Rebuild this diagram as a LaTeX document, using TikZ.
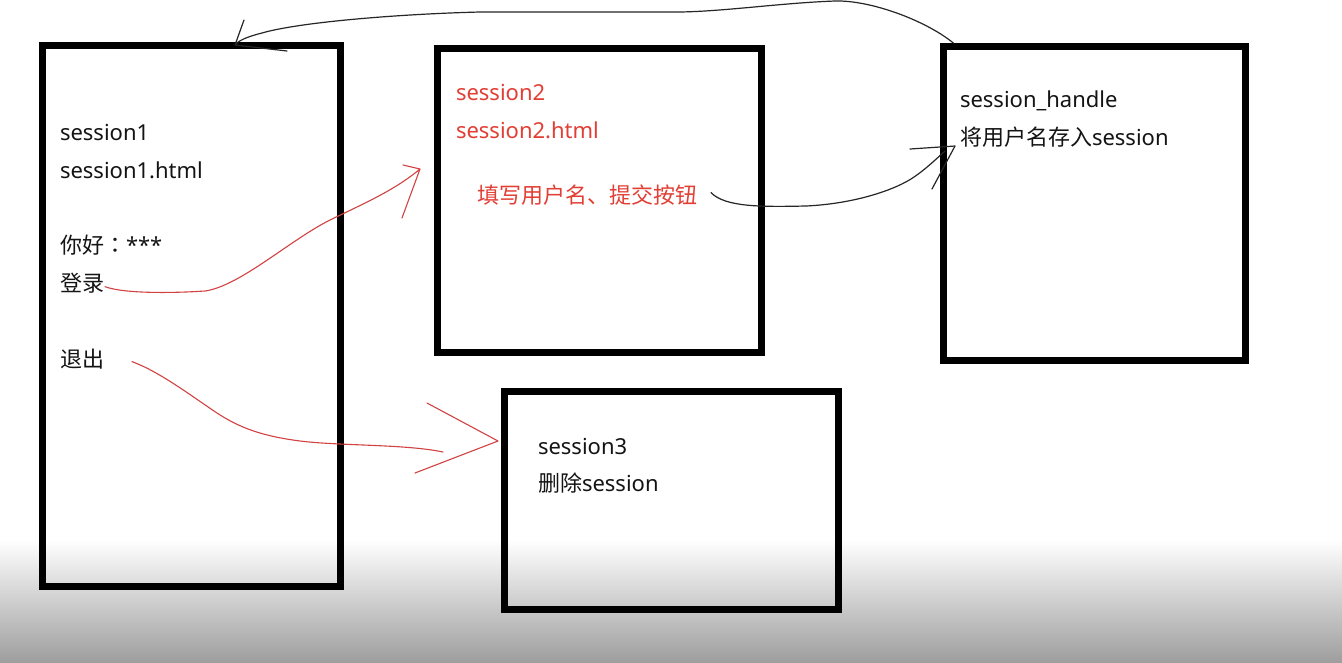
\documentclass[tikz,border=0pt]{standalone}
\usepackage{fontspec}
\setmainfont{Noto Sans}
\newfontfamily\cjk{Noto Sans CJK SC}
\newfontfamily\cjkjp{Noto Sans CJK JP}
\usetikzlibrary{calc}
\definecolor{txtblack}{RGB}{20,20,20}
\definecolor{txtred}{RGB}{226,62,52}
\definecolor{linered}{RGB}{210,66,66}
\tikzset{
  box/.style={draw=black, line width=7pt, inner sep=0pt, outer sep=0pt},
  txt/.style={anchor=base west, inner sep=0pt, outer sep=0pt, font=\fontsize{22}{26}\selectfont, text=txtblack},
  rtxt/.style={txt, text=txtred},
  redpen/.style={draw=linered, line width=1.1pt, line cap=round, line join=round},
  blackpen/.style={draw=black!85, line width=1.2pt, line cap=round, line join=round},
}
\begin{document}
\begin{tikzpicture}[x=1pt,y=-1pt]
\useasboundingbox (0,0) rectangle (1342,662);
\fill[white] (0,0) rectangle (1342,662);
\shade[top color=white, bottom color=black!38] (0,540) rectangle (1342,662);

% boxes
\node[box, minimum width=298pt, minimum height=540.5pt] (b1) at (191,315.75) {};
\node[box, minimum width=324pt, minimum height=303.5pt] (b2) at (599,200.25) {};
\node[box, minimum width=334pt, minimum height=217.8pt] (b3) at (671.5,500.6) {};
\node[box, minimum width=301.7pt, minimum height=314.5pt] (b4) at (1094.2,203.25) {};

% box 1 texts
\node[txt] (s1) at (60,140) {session1};
\node[txt] (s1h) at (60,178) {session1.html};
\node[txt] (hello) at (60,253) {{\cjk 你好}{\cjkjp ：}***};
\node[txt] (login) at (60,291) {{\cjk 登录}};
\node[txt] (logout) at (60,367) {{\cjk 退出}};

% box 2 texts
\node[rtxt] (s2) at (456,100) {session2};
\node[rtxt] (s2h) at (456,138) {session2.html};
\node[rtxt] (fill) at (477,203) {{\cjk 填写用户名、提交按钮}};

% box 4 texts
\node[txt] (sh) at (960,107) {session\_handle};
\node[txt] (store) at (960,145) {{\cjk 将用户名存入}session};

% box 3 texts
\node[txt] (s3) at (538,454) {session3};
\node[txt] (del) at (538,491) {{\cjk 删除}session};

% arrow tips
\coordinate (tipA) at (420,169);
\coordinate (tipB) at (498,441);
\coordinate (tipC) at (955,146);
\coordinate (tipD) at (235,45);

% login -> session2
\draw[redpen] ($(login.east)+(1,4)$) .. controls (125,294) and (175,293) .. (205,291)
  .. controls (240,286) and (290,240) .. (330,220)
  .. controls (365,203) and (395,190) .. (tipA)
  ($(tipA)+(-17,-4)$) -- (tipA) -- ($(tipA)+(-18,49)$);

% logout -> session3
\draw[redpen] ($(logout.east)+(28,3)$) .. controls (160,372) and (190,395) .. (217,413)
  .. controls (240,428) and (262,436) .. (300,441)
  .. controls (340,446) and (405,444) .. (443,452)
  ($(tipB)+(-71,-38)$) -- (tipB) -- ($(tipB)+(-83,32)$);

% fill -> session_handle
\draw[blackpen] ($(fill.east)+(14,-2)$) .. controls (725,207) and (760,207) .. (806,206)
  .. controls (850,204) and (890,192) .. (911,179)
  .. controls (925,170) and (935,160) .. ($(tipC)+(-10,5)$)
  ($(tipC)+(-45,3)$) -- (tipC) -- ($(tipC)+(-23,43)$);

% session_handle -> session1 (top)
\draw[blackpen] ($(b4.north west)+(10,-3)$) .. controls (925,20) and (870,0) .. (835,1)
  .. controls (780,3) and (720,12) .. (676,12)
  -- (480,12)
  .. controls (400,14) and (300,22) .. (262,33)
  .. controls (246,37) and (238,41) .. (tipD)
  ($(tipD)+(9,-25)$) -- (tipD) -- ($(tipD)+(52,6)$);
\end{tikzpicture}
\end{document}
